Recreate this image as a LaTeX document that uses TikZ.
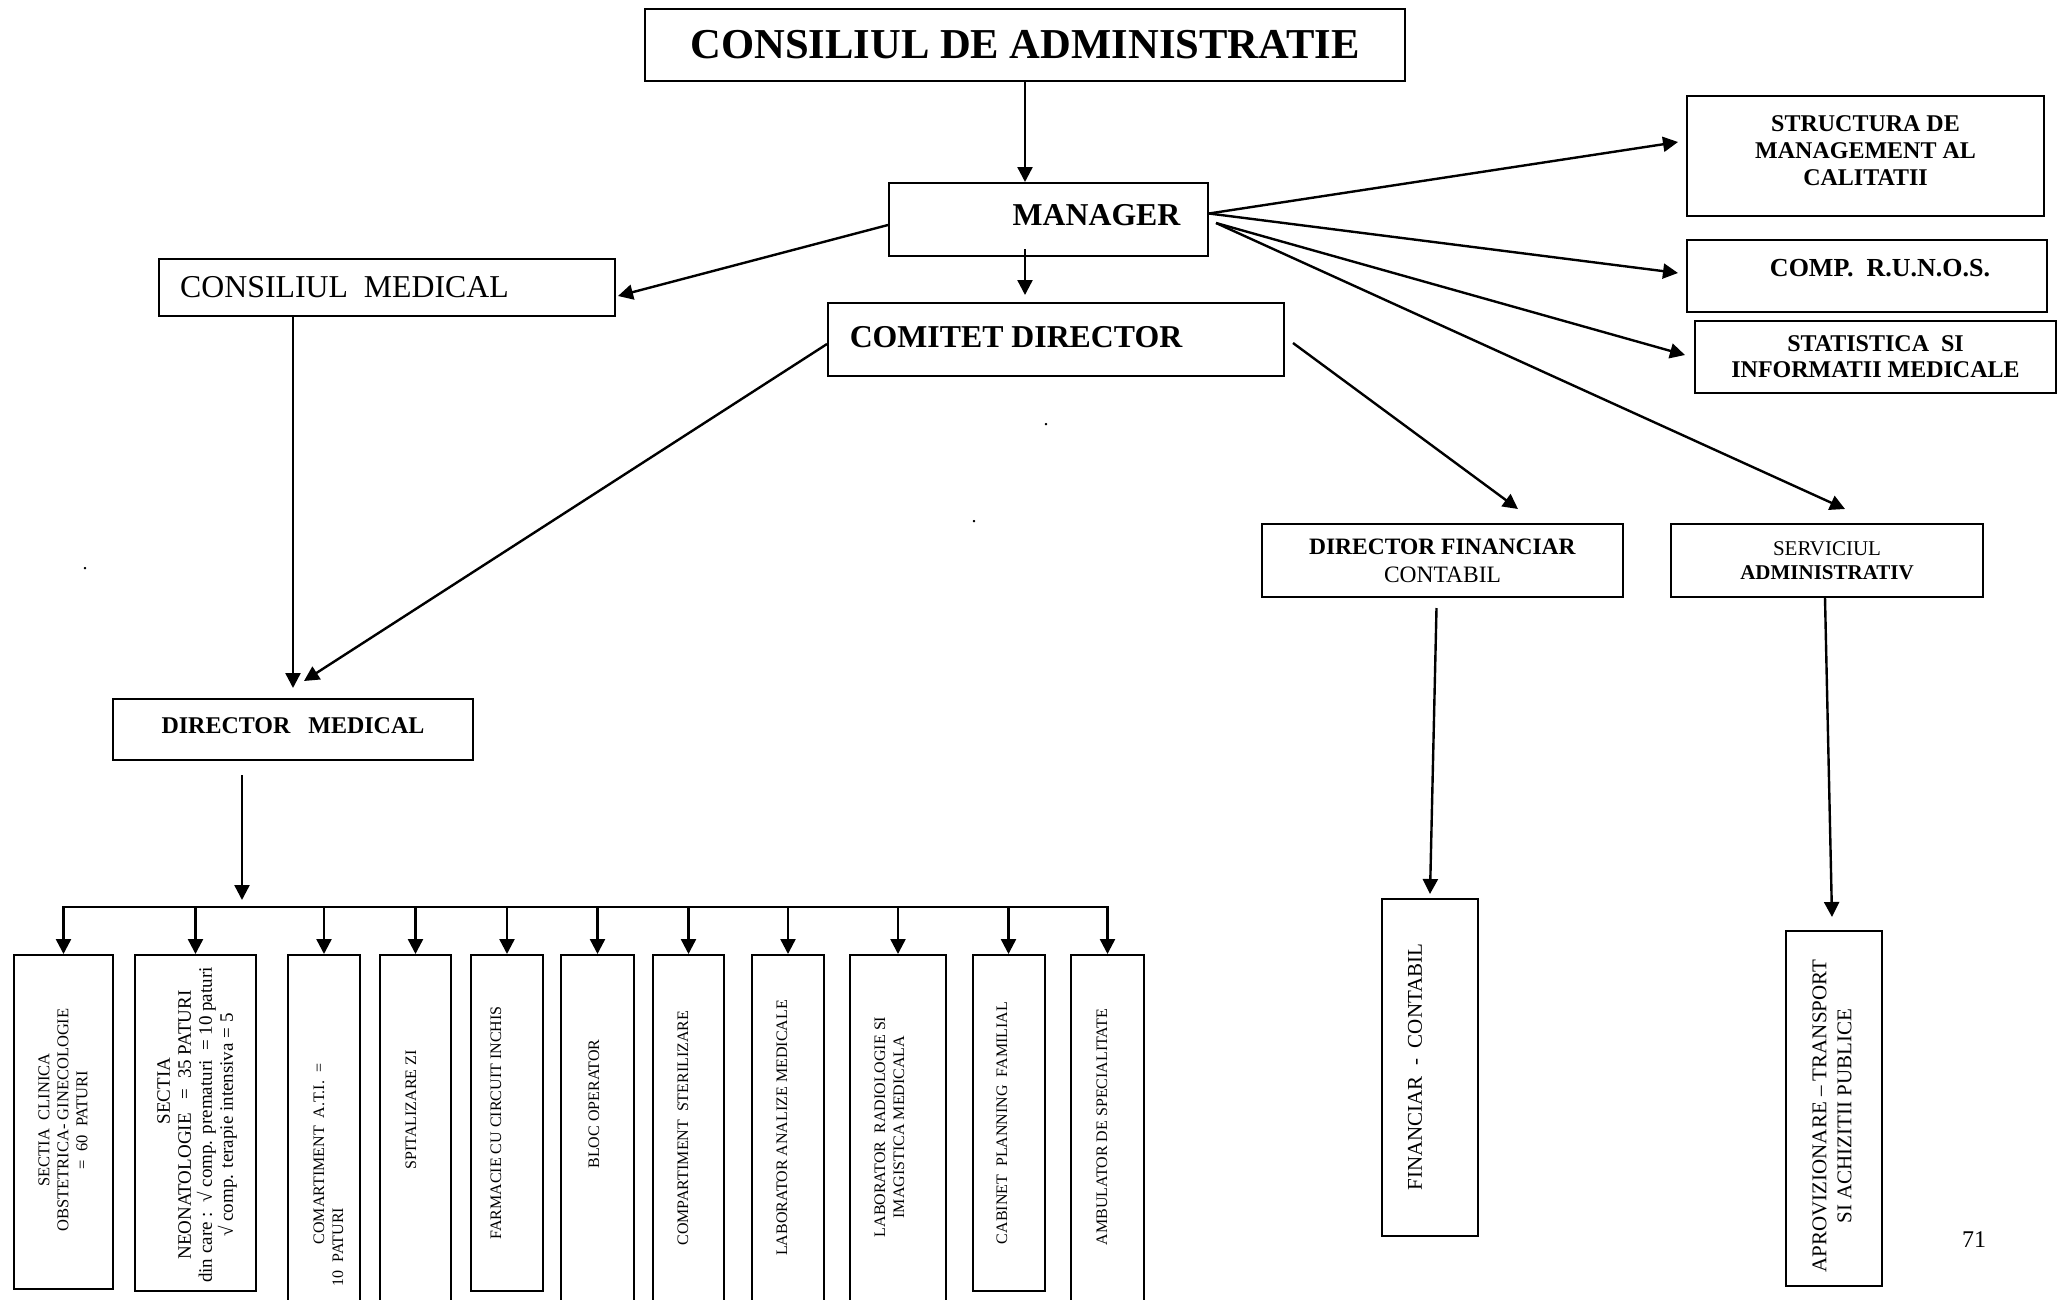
\documentclass[tikz,border=0pt]{standalone}
\usepackage{fontspec}
\setmainfont{Liberation Serif}
\usetikzlibrary{arrows.meta}

\tikzset{
  box/.style={draw, line width=2pt, inner sep=0pt},
  unit/.style={draw, line width=2pt, inner sep=0pt, anchor=north, minimum height=336pt},
  cut/.style={minimum height=400pt},
  utext/.style={rotate=90, align=center, inner sep=0pt, font=\fontsize{16}{19}\selectfont},
  link/.style={line width=2.4pt, ->},
}

\begin{document}
\begin{tikzpicture}[x=1pt, y=-1pt, >={Triangle[length=15pt,width=15pt]}]
        \useasboundingbox (0,0) rectangle (2061,1299);
        \fill [white] (0,0) rectangle (2061,1299);

        \node [box, minimum width=760pt, minimum height=72pt, font=\fontsize{42.6}{48}\selectfont\bfseries] (cda) at (1025,45) {CONSILIUL DE ADMINISTRATIE};
        \node [box, text depth=10pt, minimum width=319pt, minimum height=73pt, font=\fontsize{31.8}{36}\selectfont\bfseries] (manager) at (1048.5,219.5) {\hspace*{96pt}MANAGER};
        \node [box, text depth=6pt, minimum width=456pt, minimum height=73pt, font=\fontsize{31.8}{36}\selectfont\bfseries] (comitet) at (1056,339.5) {COMITET DIRECTOR\hspace*{80pt}};
        \node [box, minimum width=456pt, minimum height=57pt, font=\fontsize{31.8}{36}\selectfont] (consmed) at (387,287.5) {CONSILIUL\ \ MEDICAL\hspace*{85pt}};
        \node [box, text depth=8pt, minimum width=360pt, minimum height=61pt, font=\fontsize{24}{28}\selectfont\bfseries] (dirmed) at (293,729.5) {DIRECTOR\ \ \ MEDICAL};

        \node [box, align=center, text depth=10pt, minimum width=357pt, minimum height=120pt, font=\fontsize{24}{27}\selectfont\bfseries] (structura) at (1865.5,156) {STRUCTURA DE\\MANAGEMENT AL\\CALITATII};
        \node [box, text depth=16pt, minimum width=360pt, minimum height=72pt, font=\fontsize{26}{30}\selectfont\bfseries] (runos) at (1867,276) {\hspace*{26pt}COMP.\ \ R.U.N.O.S.};
        \node [box, align=center, minimum width=361pt, minimum height=72pt, font=\fontsize{24}{26}\selectfont\bfseries] (statistica) at (1875.5,357) {STATISTICA\ \ SI\\INFORMATII MEDICALE};
        \node [box, align=center, minimum width=361pt, minimum height=73pt, font=\fontsize{23.5}{28}\selectfont] (dirfin) at (1442.5,560.5) {\textbf{DIRECTOR FINANCIAR}\\CONTABIL};
        \node [box, align=center, minimum width=312pt, minimum height=73pt, font=\fontsize{21}{24}\selectfont] (servadm) at (1827,560.5) {SERVICIUL\\\textbf{ADMINISTRATIV}};

        \node [box, minimum width=96pt, minimum height=337pt] (fincont) at (1430,1067.5) {};
        \node [utext, font=\fontsize{21}{25}\selectfont] (fincontt) at (1415,1067) {FINANCIAR\ \ -\ \ CONTABIL};
        \node [box, minimum width=96pt, minimum height=355pt] (aprov) at (1834,1108.5) {};
        \node [utext, font=\fontsize{21}{25}\selectfont] (aprovt) at (1832,1116) {APROVIZIONARE -- TRANSPORT\\SI ACHIZITII PUBLICE};

        \node [unit, minimum width=99pt, minimum height=334pt] (b1) at (63.5,954) {};
        \node [unit, minimum width=121pt] (b2) at (195.5,954) {};
        \node [unit, cut, minimum width=72pt] (b3) at (324,954) {};
        \node [unit, cut, minimum width=71pt] (b4) at (415.5,954) {};
        \node [unit, minimum width=72pt] (b5) at (507,954) {};
        \node [unit, cut, minimum width=73pt] (b6) at (597.5,954) {};
        \node [unit, cut, minimum width=71pt] (b7) at (688.5,954) {};
        \node [unit, cut, minimum width=72pt] (b8) at (788,954) {};
        \node [unit, cut, minimum width=96pt] (b9) at (898,954) {};
        \node [unit, minimum width=72pt] (b10) at (1008.5,954) {};
        \node [unit, cut, minimum width=73pt] (b11) at (1107.5,954) {};

        \node [utext, font=\fontsize{16.5}{19}\selectfont] (b1t) at (63,1120) {SECTIA\ \ CLINICA\\OBSTETRICA- GINECOLOGIE\\=\ \ 60\ \ PATURI};
        \node [utext, font=\fontsize{19}{21}\selectfont] (b2t) at (197,1125) {\hspace*{68pt}SECTIA\\NEONATOLOGIE\ \ \ =\ \ 35 PATURI\\din care :\ \ √ comp. prematuri\ \ = 10 paturi\\√ comp. terapie intensiva = 5};
        \node [utext, align=left] (b3t) at (328.5,1175) {\hspace*{42pt}COMARTIMENT\ \ A.T.I.\ \ =\\10\ \ PATURI};
        \node [utext] (b4t) at (411,1110) {SPITALIZARE ZI};
        \node [utext] (b5t) at (496,1123) {FARMACIE CU CIRCUIT INCHIS};
        \node [utext] (b6t) at (594,1104) {BLOC OPERATOR};
        \node [utext] (b7t) at (683,1128) {COMPARTIMENT\ \ STERILIZARE};
        \node [utext] (b8t) at (782,1128) {LABORATOR ANALIZE MEDICALE};
        \node [utext] (b9t) at (889.5,1127) {LABORATOR\ \ RADIOLOGIE SI\\IMAGISTICA MEDICALA};
        \node [utext] (b10t) at (1002,1123) {CABINET\ \ PLANNING\ \ FAMILIAL};
        \node [utext] (b11t) at (1102,1127) {AMBULATOR DE SPECIALITATE};

        \node [inner sep=0pt, font=\fontsize{20}{20}\selectfont] (dot1) at (1046,425) {.};
        \node [inner sep=0pt, font=\fontsize{20}{20}\selectfont] (dot2) at (974,522) {.};
        \node [inner sep=0pt, font=\fontsize{20}{20}\selectfont] (dot3) at (85,569) {.};
        \node [font=\fontsize{24}{24}\selectfont] (pageno) at (1974,1240) {71};

        \draw [link] (cda.south) -- (cda.south |- manager.north);
        \draw [link, shorten <=-8pt, shorten >=7pt] (cda.south |- manager.south) -- (cda.south |- comitet.north);
        \draw [link] ([yshift=-5.5pt]manager.west) -- ([xshift=2pt,yshift=-8.5pt]consmed.east);
        \draw [link] ([yshift=6pt]manager.east) -- ([xshift=-8pt,yshift=14pt]structura.west);
        \draw [link] ([yshift=6pt]manager.east) -- ([xshift=-8pt,yshift=3pt]runos.west);
        \draw [link] ([xshift=7pt,yshift=-3.5pt]manager.east) -- ([xshift=-9pt,yshift=2pt]statistica.west);
        \draw [link] ([xshift=7pt,yshift=-3.5pt]manager.east) -- ([xshift=18pt,yshift=14pt]servadm.north);
        \draw [link] ([xshift=8pt,yshift=-3.5pt]comitet.east) -- ([xshift=75.5pt,yshift=14pt]dirfin.north);
        \draw [link] ([yshift=-4.5pt]comitet.west) -- ([xshift=11pt,yshift=17pt]dirmed.north);
        \draw [link] (consmed.south -| dirmed.north) -- ([yshift=10pt]dirmed.north);
        \draw [link] ([xshift=-6pt,yshift=-10pt]dirfin.south) -- ([yshift=4pt]fincont.north);
        \draw [link] ([xshift=-2pt]servadm.south) -- ([xshift=-2pt,yshift=13pt]aprov.north);

        \coordinate (bus) at (0,907);
        \coordinate (busin) at (242,900);
        \draw [link] ([xshift=-51pt,yshift=-14pt]dirmed.south) -- (busin);
        \draw [link, <->] (b1.north) |- (b11.north |- bus) -- (b11.north);
        \foreach \u in {b2,b3,b4,b5,b6,b7,b8,b9,b10}
            \draw [link] (\u.north |- bus) -- (\u.north);
    \end{tikzpicture}
\end{document}
